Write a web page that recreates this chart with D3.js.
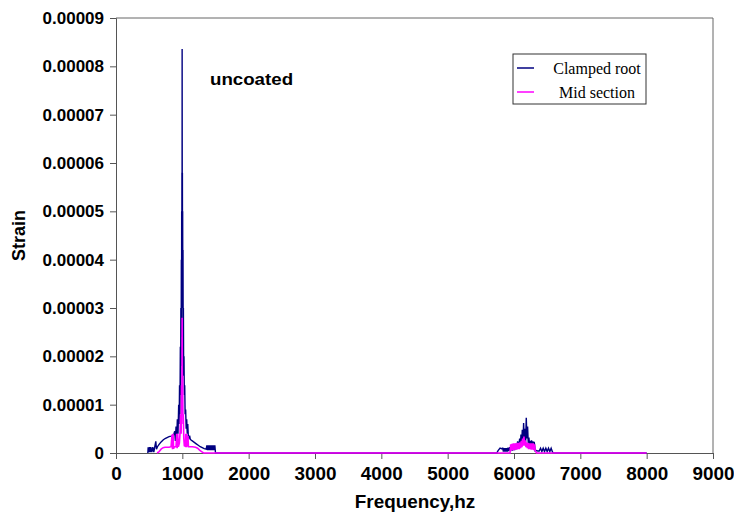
<!DOCTYPE html>
<html>
<head>
<meta charset="utf-8">
<script src="https://cdn.jsdelivr.net/npm/d3@7"></script>
<style>
  body { margin: 0; background: #fff; }
  svg text { font-family: "Liberation Sans", Arial, sans-serif; font-weight: bold; }
</style>
</head>
<body>
<svg id="chart"></svg>
<script>
// strain values are in micro-strain (x 1e-6)
var freqClamped = [480, 485, 495, 505, 515, 525, 540, 555, 570, 585, 600, 610, 625, 650, 680, 710, 740, 770, 800, 830, 850, 870, 885, 895, 905, 915, 925, 935, 945, 952, 958, 964, 970, 974, 978, 982, 985, 988, 990, 992, 994, 996, 997, 999, 1001, 1003, 1005, 1007, 1010, 1013, 1016, 1020, 1025, 1030, 1036, 1042, 1050, 1058, 1066, 1074, 1082, 1090, 1100, 1110, 1120, 1150, 1180, 1210, 1240, 1270, 1300, 1330, 1360, 1370, 1380, 1390, 1400, 1410, 1420, 1430, 1440, 1450, 1460, 1470, 1480, 1490, 1500, 1510,
  5740, 5760, 5790, 5810, 5830, 5840, 5850, 5860, 5870, 5880, 5890, 5900, 5910, 5920, 5935, 5950, 5965, 5980, 5995, 6010, 6025, 6040, 6055, 6070, 6085, 6095, 6105, 6115, 6125, 6135, 6145, 6155, 6165, 6175, 6185, 6195, 6205, 6215, 6225, 6235, 6245, 6255, 6265, 6275, 6285, 6295, 6305, 6320, 6340, 6360, 6380, 6400, 6420, 6440, 6460, 6480, 6500, 6520, 6540, 6560, 6580, 6600, 8000]
var strainClamped = [0, 1.2, 0.2, 1.2, 0.2, 1.2, 0.2, 1.2, 0.2, 1.3, 2.4, 0.8, 1.3, 1.8, 2.3, 2.7, 3.0, 3.2, 3.4, 3.5, 3.6, 3.8, 4.5, 2.5, 5.5, 3.0, 7.0, 4.0, 10, 6, 14, 8, 22, 12, 30, 18, 40, 24, 50, 34, 58, 42, 83.6, 45, 58, 36, 50, 30, 42, 22, 30, 16, 20, 12, 14, 8, 9, 5, 7, 4, 6, 3.5, 3.0, 3.6, 2.8, 2.5, 2.2, 1.9, 1.6, 1.3, 1.1, 0.9, 0.8, 1.6, 0.6, 1.6, 0.6, 1.6, 0.6, 1.6, 0.6, 1.6, 0.6, 1.6, 0.6, 1.6, 0, 0,
  0, 0.5, 1.0, 0.9, 1.0, 0.3, 1.0, 0.3, 1.0, 0.3, 1.0, 0.3, 1.1, 0.4, 1.2, 0.4, 1.4, 0.5, 1.6, 0.6, 1.9, 0.8, 2.4, 1.0, 3.0, 1.2, 3.8, 1.5, 4.8, 2.0, 6.2, 2.5, 5.0, 2.2, 7.3, 3.0, 5.5, 2.0, 3.2, 1.5, 2.5, 1.2, 2.6, 1.2, 2.4, 1.0, 2.3, 0.4, 0.5, 0.4, 0.4, 1.0, 0.3, 1.0, 0.3, 1.0, 0.3, 1.0, 0.3, 1.0, 0.2, 0, 0]

var freqMid = [620, 650, 680, 710, 740, 770, 800, 830, 845, 852, 860, 868, 880, 905, 915, 922, 930, 940, 955, 965, 975, 982, 988, 993, 997, 1001, 1005, 1010, 1015, 1022, 1030, 1045, 1052, 1058, 1066, 1074, 1085, 1092, 1110, 1150, 1200, 1230, 1260, 1290, 1320,
  5940, 5950, 5960, 5970, 5980, 5990, 6000, 6010, 6020, 6030, 6040, 6050, 6060, 6070, 6080, 6090, 6100, 6110, 6120, 6130, 6140, 6150, 6160, 6170, 6180, 6190, 6200, 6210, 6220, 6230, 6240, 6250, 6260, 6270, 6280, 6290, 6300, 6310, 6320, 6340, 8000]
var strainMid = [0, 0.3, 0.8, 1.1, 1.2, 1.2, 1.2, 1.3, 3.8, 0.8, 4.0, 0.9, 1.3, 1.3, 4.0, 1.0, 4.0, 1.3, 2.0, 4, 8, 4, 14, 8, 28, 10, 16, 6, 8, 3, 1.5, 1.4, 4.0, 1.2, 4.0, 1.3, 3.5, 1.3, 1.3, 1.3, 1.2, 1.0, 0.6, 0.3, 0,
  0, 1.8, 0.5, 1.9, 0.6, 2.0, 0.6, 2.0, 0.7, 2.0, 0.7, 2.1, 0.8, 2.1, 0.8, 2.2, 1.0, 2.5, 1.2, 3.0, 1.5, 3.4, 1.5, 2.6, 1.2, 2.2, 1.0, 2.1, 0.8, 2.0, 0.8, 2.0, 0.7, 2.0, 0.7, 2.0, 0.6, 1.8, 0.5, 0, 0]

var xTicks = [0, 1000, 2000, 3000, 4000, 5000, 6000, 7000, 8000, 9000]
var yTicks = [0, 10, 20, 30, 40, 50, 60, 70, 80, 90]
var yTickLabels = ["0", "0.00001", "0.00002", "0.00003", "0.00004", "0.00005", "0.00006", "0.00007", "0.00008", "0.00009"]
var seriesNames = ["Clamped root", "Mid section"]
var seriesColors = ["#000080", "#ff00ff"]

var width = 734,
    height = 521
var margin = {top: 18, right: 21, bottom: 68, left: 116}
var w = width - margin.left - margin.right,
    h = height - margin.top - margin.bottom

var svg = d3.select("#chart").attr("width", width).attr("height", height)
var g = svg.append("g").attr("transform", "translate(" + margin.left + "," + margin.top + ")")

var x = d3.scaleLinear().domain([0, 9000]).range([0, w])
var y = d3.scaleLinear().domain([0, 90]).range([h, 0])

// top and right frame
g.append("path")
    .attr("d", "M0,0H" + w + "V" + h)
    .attr("fill", "none")
    .attr("stroke", "#666")
    .attr("stroke-width", 1)

var xAxis = g.append("g")
    .attr("transform", "translate(0," + h + ")")
    .call(d3.axisBottom(x).tickValues(xTicks).tickSize(6).tickPadding(5).tickFormat(d3.format("d")))
var yAxis = g.append("g")
    .call(d3.axisLeft(y).tickValues(yTicks).tickSize(6).tickPadding(6).tickFormat(function (d, i) {
        return yTickLabels[i]
    }))
svg.selectAll(".domain, .tick line").attr("stroke", "#555")
svg.selectAll(".tick text").attr("font-size", 17).attr("fill", "#000")
    .style("font-family", "'Liberation Sans', Arial, sans-serif").style("font-weight", "bold")
xAxis.selectAll(".tick text").attr("dy", "0.9em")
    .attr("font-size", 18)
    .attr("transform", "scale(1.05,1)")

var line = d3.line()
    .x(function (d) { return x(d[0]) })
    .y(function (d) { return y(d[1]) })

var clamped = d3.zip(freqClamped, strainClamped)
var mid = d3.zip(freqMid, strainMid)

g.append("path")
    .datum(clamped)
    .attr("d", line)
    .attr("fill", "none")
    .attr("stroke", seriesColors[0])
    .attr("stroke-width", 1.4)
g.append("path")
    .datum(mid)
    .attr("d", line)
    .attr("fill", "none")
    .attr("stroke", seriesColors[1])
    .attr("stroke-width", 1.6)

// labels
svg.append("text")
    .attr("x", 415)
    .attr("y", 508)
    .attr("text-anchor", "middle")
    .attr("font-size", 18)
    .attr("transform", "translate(-20.75,0) scale(1.05,1)")
    .text("Frequency,hz")
svg.append("text")
    .attr("transform", "translate(25," + (margin.top + h / 2) + ") rotate(-90)")
    .attr("text-anchor", "middle")
    .attr("font-size", 18)
    .text("Strain")
svg.append("text")
    .attr("x", 210)
    .attr("y", 85)
    .attr("font-size", 17)
    .attr("transform", "translate(-21,0) scale(1.1,1)")
    .text("uncoated")

// legend
var legend = svg.append("g").attr("transform", "translate(513,54)")
legend.append("rect")
    .attr("width", 133)
    .attr("height", 50)
    .attr("fill", "#fff")
    .attr("stroke", "#333")
    .attr("stroke-width", 1)
legend.selectAll("line")
    .data(seriesNames)
    .enter().append("line")
    .attr("x1", 4).attr("x2", 21)
    .attr("y1", function (d, i) { return 14 + i * 24 })
    .attr("y2", function (d, i) { return 14 + i * 24 })
    .attr("stroke", function (d, i) { return seriesColors[i] })
    .attr("stroke-width", 1.5)
legend.selectAll("text")
    .data(seriesNames)
    .enter().append("text")
    .attr("x", 84)
    .attr("y", function (d, i) { return 20 + i * 24 })
    .attr("text-anchor", "middle")
    .attr("font-size", 16)
    .style("font-family", "'Liberation Serif', 'Times New Roman', serif")
    .style("font-weight", "normal")
    .text(function (d) { return d })
</script>
</body>
</html>
